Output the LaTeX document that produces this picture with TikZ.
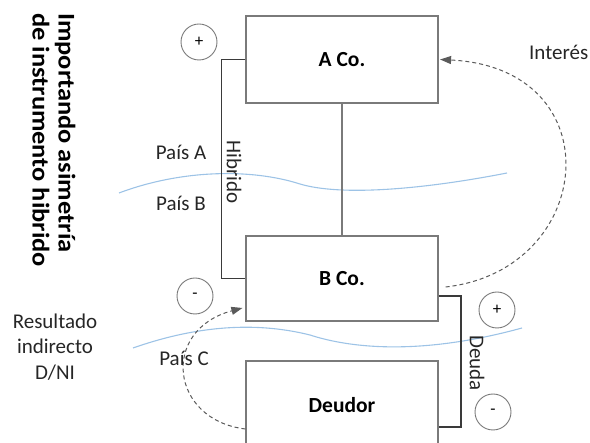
\documentclass[tikz,border=0pt]{standalone}
\usepackage{fontspec}
\setmainfont{Carlito}
\usetikzlibrary{arrows.meta}
\definecolor{boxgray}{HTML}{7A7A7A}
\definecolor{brk}{HTML}{3A3A3A}
\definecolor{dsh}{HTML}{5A5A5A}
\definecolor{wave}{HTML}{9DC3E6}
\definecolor{txt}{HTML}{262626}
\tikzset{
  box/.style={draw=boxgray, line width=1.2pt, fill=white, minimum width=192pt, text=black, font=\fontsize{21.5}{25}\selectfont\bfseries},
  bracket/.style={draw=brk, line width=1.8pt},
  link/.style={draw=boxgray, line width=1.2pt},
  sign/.style={draw=boxgray, line width=0.9pt, circle, minimum size=36pt, inner sep=0pt, font=\fontsize{17}{17}\selectfont},
  dasharrow/.style={draw=dsh, line width=1pt, dash pattern=on 4pt off 3pt, -{Triangle[length=11pt,width=8pt]}},
  wavy/.style={draw=wave, line width=1.1pt},
  lbl/.style={text=txt, font=\fontsize{21}{25.5}\selectfont, inner sep=0pt},
}
\begin{document}
\begin{tikzpicture}[x=1pt,y=-1pt]
\useasboundingbox (0,0) rectangle (590,443);
% waves
\draw[wavy] (119,193) .. controls (180,170) and (250,168) .. (300,184) .. controls (340,196) and (420,190) .. (507,173);
\draw[wavy] (133,348) .. controls (190,328) and (250,320) .. (310,335) .. controls (350,348) and (420,356) .. (522,328);
% boxes
\node[box, minimum height=87pt] (A) at (342,59.5) {A Co.};
\node[box, minimum height=85pt] (B) at (342,278.5) {B Co.};
\node[box, minimum height=88pt] (D) at (342,405) {Deudor};
\draw[link] (A) -- (B);
% brackets
\draw[bracket] (A.west) -- ++(-24,0) coordinate (h1) |- (B.west);
\draw[bracket] ([yshift=-17.5pt]B.east) -- ++(22,0) coordinate (d1) |- ([yshift=-22pt]D.east);
\node[lbl, rotate=-90] (hib) at (234,172) {Hibrido};
\node[lbl, rotate=-90] (deu) at (477,363) {Deuda};
% signs
\node[sign] (s1) at (199,42) {+};
\node[sign] (s2) at (195,296) {-};
\node[sign] (s3) at (497,310) {+};
\node[sign] (s4) at (493,412) {-};
% dashed arrows
\draw[dasharrow] ([shift={(7pt,-8.5pt)}]B.east) .. controls (596,270) and (614,68) .. ([xshift=1.5pt]A.east);
\draw[dasharrow] ([yshift=-24pt]D.west) .. controls (170,420) and (160,330) .. ([shift={(-3pt,-29.5pt)}]B.west);
% labels
\node[lbl] (pa) at (181,152) {País A};
\node[lbl] (pb) at (181,203) {País B};
\node[lbl] (pc) at (184,358) {País C};
\node[lbl, anchor=west] (int) at (529,52) {Interés};
\node[lbl, align=center] (res) at (55,347) {Resultado\\indirecto\\D/NI};
\node[rotate=-90, anchor=north west, inner sep=0pt, text=black,
      font=\fontsize{24}{26}\selectfont\bfseries] (title) at (77,13)
      {\scalebox{1.1}[1]{\begin{tabular}{@{}l@{}}Importando asimetría\\de instrumento hibrido\end{tabular}}};
\end{tikzpicture}
\end{document}
